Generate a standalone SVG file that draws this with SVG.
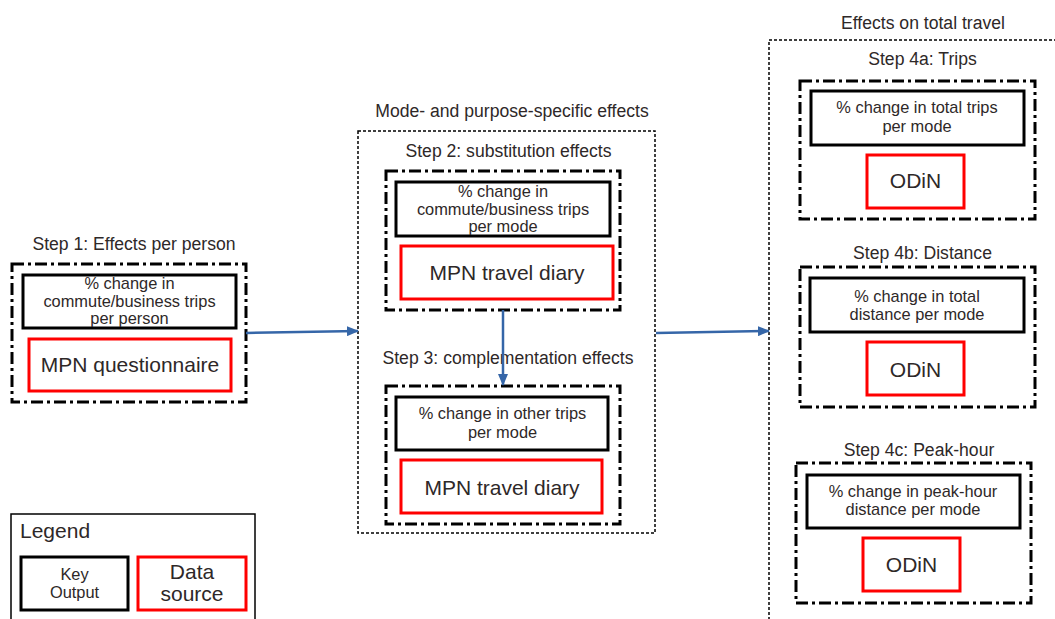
<svg xmlns="http://www.w3.org/2000/svg" width="1055" height="619" viewBox="0 0 1055 619">
<style>
text{font-family:"Liberation Sans",Arial,sans-serif;fill:#2e2828;text-anchor:middle}
.t{font-size:17.6px}
.k{font-size:16.4px}
.d{font-size:21px}
.grp{fill:none;stroke:#000;stroke-width:3;stroke-dasharray:12 4 3 4}
.outer{fill:none;stroke:#000;stroke-width:1.5;stroke-dasharray:3 2}
.key{fill:#fff;stroke:#000;stroke-width:3}
.src{fill:#fff;stroke:#f00;stroke-width:3}
.conn{stroke:#3566a8;stroke-width:2.5;fill:none}
</style>
<defs>
<marker id="ah" markerWidth="12" markerHeight="10" refX="11" refY="5" orient="auto" markerUnits="userSpaceOnUse">
<path d="M0,0 L12,5 L0,10 Z" fill="#3566a8"/>
</marker>
</defs>
<rect width="1055" height="619" fill="#fff"/>

<g id="step1">
<text class="t" x="134" y="250">Step 1: Effects per person</text>
<rect class="grp" x="12" y="264" width="234" height="138"/>
<rect class="key" x="23" y="275" width="213" height="53"/>
<text class="k" x="129.5" y="289">% change in</text>
<text class="k" x="129.5" y="306.5">commute/business trips</text>
<text class="k" x="129.5" y="324">per person</text>
<rect class="src" x="29" y="339" width="202" height="52"/>
<text class="d" x="130" y="372">MPN questionnaire</text>
</g>

<g id="mode-purpose">
<text class="t" x="512" y="117">Mode- and purpose-specific effects</text>
<rect class="outer" x="358" y="131" width="297" height="402"/>
</g>

<g id="step2">
<text class="t" x="508.5" y="157">Step 2: substitution effects</text>
<rect class="grp" x="386" y="171" width="234" height="139"/>
<rect class="key" x="396" y="182" width="214" height="54"/>
<text class="k" x="503" y="197">% change in</text>
<text class="k" x="503" y="214.5">commute/business trips</text>
<text class="k" x="503" y="232">per mode</text>
<rect class="src" x="401" y="246" width="212" height="53"/>
<text class="d" x="507" y="280">MPN travel diary</text>
</g>

<g id="step3">
<text class="t" x="508" y="364">Step 3: complementation effects</text>
<rect class="grp" x="386" y="386" width="234" height="138"/>
<rect class="key" x="396" y="397" width="212" height="53"/>
<text class="k" x="502.5" y="419">% change in other trips</text>
<text class="k" x="502.5" y="438">per mode</text>
<rect class="src" x="401" y="460" width="201" height="53"/>
<text class="d" x="502" y="495">MPN travel diary</text>
</g>

<g id="total-travel">
<text class="t" x="923" y="29">Effects on total travel</text>
<rect class="outer" x="769" y="40" width="300" height="600"/>
</g>

<g id="step4a">
<text class="t" x="922.5" y="65">Step 4a: Trips</text>
<rect class="grp" x="800" y="81" width="235" height="138"/>
<rect class="key" x="811" y="91" width="213" height="54"/>
<text class="k" x="917" y="113">% change in total trips</text>
<text class="k" x="917" y="132">per mode</text>
<rect class="src" x="867" y="155" width="97" height="53"/>
<text class="d" x="915.5" y="188">ODiN</text>
</g>

<g id="step4b">
<text class="t" x="922.5" y="259">Step 4b: Distance</text>
<rect class="grp" x="800" y="267" width="235" height="140"/>
<rect class="key" x="810" y="278" width="214" height="54"/>
<text class="k" x="917" y="302">% change in total</text>
<text class="k" x="917" y="320">distance per mode</text>
<rect class="src" x="867" y="342" width="97" height="53"/>
<text class="d" x="915.5" y="377">ODiN</text>
</g>

<g id="step4c">
<text class="t" x="919" y="456">Step 4c: Peak-hour</text>
<rect class="grp" x="796" y="463" width="235" height="140"/>
<rect class="key" x="807" y="475" width="213" height="53"/>
<text class="k" x="913" y="497">% change in peak-hour</text>
<text class="k" x="913" y="515">distance per mode</text>
<rect class="src" x="863" y="538" width="97" height="53"/>
<text class="d" x="911.5" y="572">ODiN</text>
</g>

<g id="legend">
<rect x="11" y="514" width="244" height="120" fill="#fff" stroke="#000" stroke-width="1.5"/>
<text class="d" x="20" y="538" style="text-anchor:start">Legend</text>
<rect class="key" x="21" y="557" width="107" height="53"/>
<text class="k" x="74.5" y="580">Key</text>
<text class="k" x="74.5" y="598">Output</text>
<rect class="src" x="138" y="557" width="108" height="53"/>
<text class="d" x="192" y="579">Data</text>
<text class="d" x="192" y="601">source</text>
</g>

<g id="connectors">
<line class="conn" x1="246" y1="333" x2="358" y2="331" marker-end="url(#ah)"/>
<line class="conn" x1="503" y1="310" x2="503" y2="385" marker-end="url(#ah)"/>
<line class="conn" x1="656" y1="333" x2="769" y2="331" marker-end="url(#ah)"/>
</g>
</svg>
